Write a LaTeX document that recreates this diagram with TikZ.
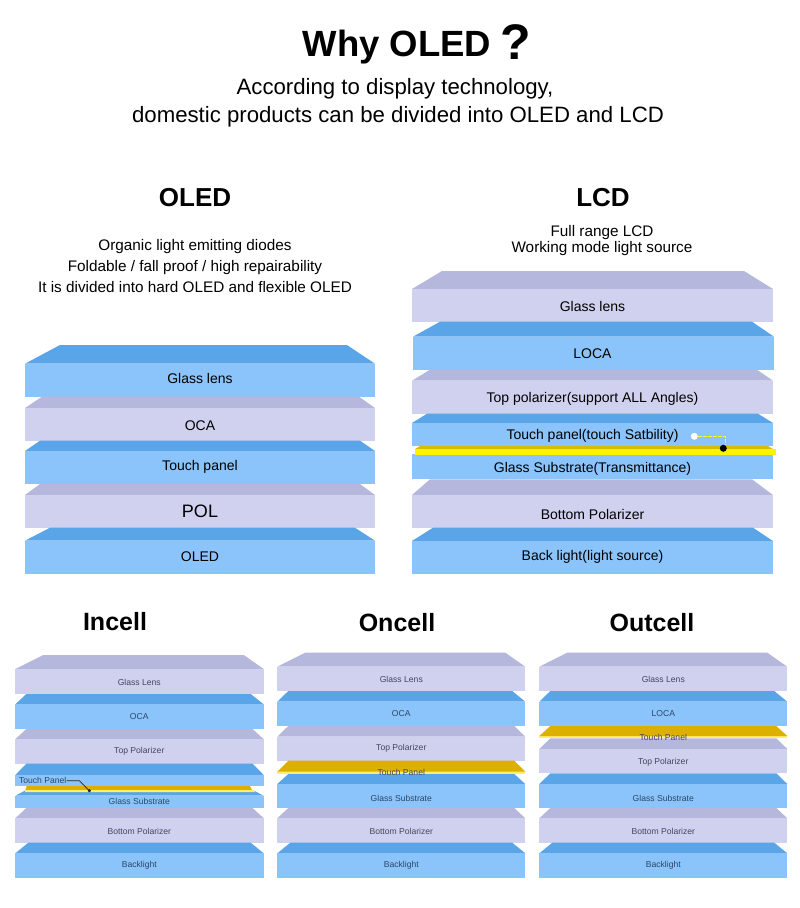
\documentclass[tikz,border=0pt]{standalone}
\usepackage{fontspec}
\setmainfont{Liberation Sans}
\definecolor{bluefront}{HTML}{8AC4FB}
\definecolor{bluetop}{HTML}{5AA5E8}
\definecolor{lavfront}{HTML}{CFD1EE}
\definecolor{lavtop}{HTML}{B5B7DD}
\definecolor{goldtop}{HTML}{DDB000}
\definecolor{lemon}{HTML}{FFF06A}
\definecolor{lcdgold}{HTML}{D9BC00}
\definecolor{lcdyellow}{HTML}{FFF200}
\definecolor{bluetext}{HTML}{2C4668}
\definecolor{lavtext}{HTML}{45465F}
\newcommand{\fsz}[1]{\fontsize{#1}{#1}\selectfont}
% \slab{top colour}{front colour}{ytop}{yfront}{ybot}{xl}{xr}{inset l}{inset r}
\newcommand{\slab}[9]{%
  \fill[#1] ({#6+#8},#3) -- ({#7-#9},#3) -- (#7,#4) -- (#6,#4) -- cycle;
  \fill[#2] (#6,#4) rectangle (#7,#5);}
\newcommand{\bslab}[7]{\slab{bluetop}{bluefront}{#1}{#2}{#3}{#4}{#5}{#6}{#7}}
\newcommand{\lslab}[7]{\slab{lavtop}{lavfront}{#1}{#2}{#3}{#4}{#5}{#6}{#7}}
\tikzset{
  toptitle/.style={font=\fsz{36.5}\bfseries, text=black, inner sep=0},
  subtitle/.style={font=\fsz{22.2}, text=black, inner sep=0, anchor=base},
  heading/.style={font=\fsz{26}\bfseries, text=black, inner sep=0},
  note/.style={font=\fsz{15.3}, text=black, inner sep=0, anchor=base},
  layertext/.style={font=\fsz{14}, text=black, inner sep=0},
  smallb/.style={font=\fsz{8.6}, text=bluetext, inner sep=0},
  smalll/.style={font=\fsz{8.6}, text=lavtext, inner sep=0},
  dotw/.style={circle, fill=white, inner sep=0, minimum size=7pt},
  dotk/.style={circle, fill=black, inner sep=0, minimum size=7pt},
  dotsmall/.style={circle, fill=black!85, inner sep=0, minimum size=3.5pt},
}
\begin{document}
\begin{tikzpicture}[x=1pt,y=-1pt]
\useasboundingbox (0,0) rectangle (800,908);
\fill[white] (0,0) rectangle (800,908);
% titles
\node[toptitle] (whyt) at (397,47) {Why OLED};
\node[font=\fsz{50}\bfseries, inner sep=0] (whyq) at (516,42) {?};
\node[subtitle] (sub1) at (395,94.5) {According to display technology,};
\node[subtitle] (sub2) at (398,122) {domestic products can be divided into OLED and LCD};
\node[heading] (holed) at (195,198) {OLED};
\node[heading] (hlcd) at (603,198) {LCD};
\node[note] (n1) at (195,250) {Organic light emitting diodes};
\node[note] (n2) at (195,271) {Foldable / fall proof / high repairability};
\node[note] (n3) at (195,292) {It is divided into hard OLED and flexible OLED};
\node[note] (n4) at (602,236) {Full range LCD};
\node[note] (n5) at (602,252) {Working mode light source};
\node[heading,font=\fsz{25}\bfseries] (hin) at (115,622) {Incell};
\node[heading,font=\fsz{25}\bfseries] (hon) at (397,623) {Oncell};
\node[heading,font=\fsz{25}\bfseries] (hout) at (652,623) {Outcell};
% OLED stack
\bslab{345}{363.7}{396.7}{25}{375}{35}{28}
\lslab{396.7}{408}{440.7}{25}{375}{17}{16}
\bslab{440.7}{451}{484}{25}{375}{15}{15}
\lslab{484}{495}{527.7}{25}{375}{15}{15}
\bslab{527.7}{540.7}{573.7}{25}{375}{25}{20}
\node[layertext] (o1) at (200,378.5) {Glass lens};
\node[layertext] (o2) at (200,425.5) {OCA};
\node[layertext] (o3) at (200,466.5) {Touch panel};
\node[layertext,font=\fsz{18}] (o4) at (200,511.5) {POL};
\node[layertext] (o5) at (200,556.5) {OLED};
% LCD stack
\lslab{271}{289}{321.7}{412}{773}{30}{29}
\bslab{321.7}{336.7}{369.7}{413}{774}{27}{22}
\lslab{369.7}{380.7}{413.7}{412}{773}{18}{16}
\bslab{413.7}{423}{446}{412}{773}{15}{15}
\fill[bluefront] (412,454) rectangle (773,479.3);
\fill[lcdgold] (420,446) -- (768,446) -- (773,449) -- (415,449) -- cycle;
\fill[lcdyellow] (415,449) rectangle (775.5,455);
\lslab{479.3}{495}{527.7}{412}{773}{18}{21}
\bslab{527.7}{541}{573.7}{412}{773}{21}{20}
\node[layertext] (l1) at (592.5,306.5) {Glass lens};
\node[layertext] (l2) at (592.5,353.5) {LOCA};
\node[layertext] (l3) at (592.5,398.5) {Top polarizer(support ALL Angles)};
\node[layertext] (l4) at (592.5,435.5) {Touch panel(touch Satbility)};
\node[layertext] (l5) at (592.5,468.5) {Glass Substrate(Transmittance)};
\node[layertext] (l6) at (592.5,514.5) {Bottom Polarizer};
\node[layertext] (l7) at (592.5,556.5) {Back light(light source)};
\node[dotw] (wd) at (694.3,436.3) {};
\node[dotk] (kd) at (723.3,448.3) {};
\draw[dash pattern=on 3.5pt off 1.5pt, line width=0.8pt, color=yellow!80!white] (wd.east) -- (725,436.3) -- (725,445);
% Incell
\lslab{655}{669}{694}{15.3}{263.7}{28}{20}
\bslab{694}{704.3}{729}{15.3}{263.7}{11}{13}
\lslab{729}{739.3}{763.7}{15.3}{263.7}{11}{11}
\bslab{790}{795.7}{808}{15.3}{263.7}{11}{11}
\bslab{763.7}{775}{786}{15.3}{263.7}{11}{11}
\fill[goldtop] (26.7,786) -- (250,786) -- (252,790) -- (25.5,790) -- cycle;
\fill[lemon] (25.5,790) -- (254,790) -- (255,792) -- (25,792) -- cycle;
\lslab{808}{818.3}{842.7}{15.3}{263.7}{11}{11}
\bslab{842.7}{853.3}{878}{15.3}{263.7}{13}{13}
\node[smalll] (a1) at (139.3,682) {Glass Lens};
\node[smallb] (a2) at (139.3,716.7) {OCA};
\node[smalll] (a3) at (139.3,751) {Top Polarizer};
\node[smallb] (a4) at (42.7,780.7) {Touch Panel};
\node[smallb] (a5) at (139.3,801.7) {Glass Substrate};
\node[smalll] (a6) at (139.3,831) {Bottom Polarizer};
\node[smallb] (a7) at (139.3,865) {Backlight};
\node[dotsmall] (ad) at (89.3,790.7) {};
\draw[line width=0.7pt, color=black!85] (a4.east) -- (79.3,780.7) -- (ad.center);
% Oncell
\lslab{652.7}{666.7}{691}{277.3}{525.3}{28}{20}
\bslab{691}{701.7}{726}{277.3}{525.3}{11}{13}
\lslab{726}{736.7}{760.7}{277.3}{525.3}{11}{11}
\fill[lemon] (277.3,771) rectangle (525.3,774);
\fill[goldtop] (288.3,760.7) -- (514.3,760.7) -- (525.3,771.7) -- (277.3,771.7) -- cycle;
\bslab{774}{784}{808}{277.3}{525.3}{11}{11}
\lslab{808}{818.3}{842.7}{277.3}{525.3}{11}{11}
\bslab{842.7}{853.3}{878}{277.3}{525.3}{13}{13}
\node[smalll] (b1) at (401.3,679.3) {Glass Lens};
\node[smallb] (b2) at (401.3,713.7) {OCA};
\node[smalll] (b3) at (401.3,748) {Top Polarizer};
\node[smalll] (b4) at (401.3,772.3) {Touch Panel};
\node[smallb] (b5) at (401.3,798.7) {Glass Substrate};
\node[smalll] (b6) at (401.3,831) {Bottom Polarizer};
\node[smallb] (b7) at (401.3,865) {Backlight};
% Outcell
\lslab{652.7}{666.7}{691}{539.3}{787.3}{28}{20}
\bslab{691}{701.7}{726}{539.3}{787.3}{11}{13}
\fill[lemon] (539.3,735.5) rectangle (787.3,738.3);
\fill[goldtop] (550.3,726) -- (776.3,726) -- (787.3,736) -- (539.3,736) -- cycle;
\lslab{738.3}{749}{773.3}{539.3}{787.3}{11}{11}
\bslab{773.3}{784}{808}{539.3}{787.3}{11}{11}
\lslab{808}{818.3}{842.7}{539.3}{787.3}{11}{11}
\bslab{842.7}{853.3}{878}{539.3}{787.3}{13}{13}
\node[smalll] (c1) at (663.3,679.3) {Glass Lens};
\node[smallb] (c2) at (663.3,713.7) {LOCA};
\node[smalll] (c3) at (663.3,737.7) {Touch Panel};
\node[smalll] (c4) at (663.3,762.3) {Top Polarizer};
\node[smallb] (c5) at (663.3,798.7) {Glass Substrate};
\node[smalll] (c6) at (663.3,831) {Bottom Polarizer};
\node[smallb] (c7) at (663.3,865) {Backlight};
\end{tikzpicture}
\end{document}
